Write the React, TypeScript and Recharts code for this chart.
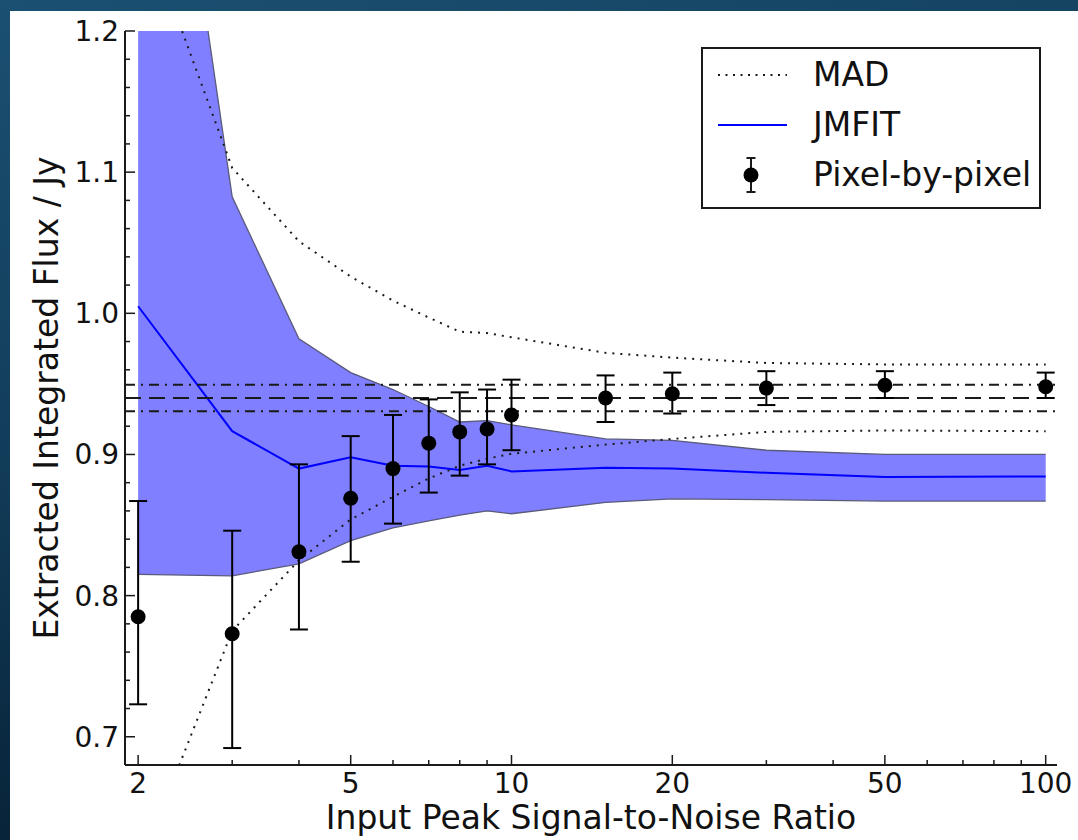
import React from "react";
import {
  ComposedChart,
  Area,
  Line,
  Scatter,
  XAxis,
  YAxis,
  ErrorBar,
  ReferenceLine,
  Legend,
  Label,
} from "recharts";

// input peak S/N values
const snr = [2, 3, 4, 5, 6, 7, 8, 9, 10, 15, 20, 30, 50, 100];

// JMFIT median and its spread
const jmfit = [1.005, 0.9165, 0.89, 0.898, 0.892, 0.8915, 0.889, 0.892, 0.888, 0.8906, 0.89, 0.887, 0.884, 0.8844];
const jmfitLow = [0.815, 0.814, 0.8225, 0.839, 0.848, 0.853, 0.857, 0.86, 0.858, 0.866, 0.8686, 0.868, 0.867, 0.867];
const jmfitHigh = [1.54, 1.0825, 0.982, 0.958, 0.946, 0.934, 0.923, 0.924, 0.921, 0.911, 0.91, 0.903, 0.9, 0.9];

// MAD envelope
const madHigh = [1.285, 1.103, 1.051, 1.026, 1.009, 0.997, 0.987, 0.986, 0.983, 0.972, 0.9686, 0.9648, 0.9638, 0.9638];
const madLow = [0.606, 0.775, 0.825, 0.854, 0.87, 0.883, 0.892, 0.897, 0.9005, 0.907, 0.911, 0.916, 0.917, 0.9165];

// pixel-by-pixel fluxes with asymmetric errors
const pixelFlux = [0.785, 0.773, 0.831, 0.869, 0.89, 0.908, 0.916, 0.918, 0.928, 0.94, 0.943, 0.947, 0.949, 0.948];
const pixelErrLow = [0.062, 0.081, 0.055, 0.045, 0.039, 0.035, 0.031, 0.025, 0.025, 0.017, 0.014, 0.012, 0.009, 0.008];
const pixelErrHigh = [0.082, 0.073, 0.062, 0.044, 0.038, 0.031, 0.028, 0.028, 0.025, 0.016, 0.015, 0.012, 0.01, 0.01];

const trueFlux = 0.94;
const trueFluxLimits = [0.9306, 0.9494];

const xTicks = [2, 3, 4, 5, 6, 7, 8, 9, 10, 20, 30, 40, 50, 60, 70, 80, 90, 100];
const xLabelled = [2, 5, 10, 20, 50, 100];
const yTicks = [0.68, 0.7, 0.72, 0.74, 0.76, 0.78, 0.8, 0.82, 0.84, 0.86, 0.88, 0.9, 0.92, 0.94, 0.96, 0.98, 1.0, 1.02, 1.04, 1.06, 1.08, 1.1, 1.12, 1.14, 1.16, 1.18, 1.2];
const yLabelled = [0.7, 0.8, 0.9, 1.0, 1.1, 1.2];

const legendNames = ["MAD", "JMFIT", "Pixel-by-pixel"];

const rows = snr.map((s, i) => ({
  snr: s,
  jmfit: jmfit[i],
  band: [jmfitLow[i], jmfitHigh[i]],
  madHigh: madHigh[i],
  madLow: madLow[i],
  flux: pixelFlux[i],
  err: [pixelErrLow[i], pixelErrHigh[i]],
}));

const FONT = "'DejaVu Sans', sans-serif";
const TS = 6;
const TM = 2;
const INK = "#1a1a1a";

const isLabelled = (list: number[], v: number) => list.some((t) => Math.abs(t - v) < 1e-6);

function BottomTick(props: any) {
  const { x, y, payload } = props;
  const v = payload.value;
  const ay = y - TS - TM;
  const major = isLabelled(xLabelled, v);
  return (
    <g>
      <line x1={x} x2={x} y1={ay} y2={ay - (major ? 10 : 5)} stroke={INK} strokeWidth={1.5} />
      {major && (
        <text x={x} y={ay + 28} textAnchor="middle" fontSize={28} fontFamily={FONT} fill="#111">
          {v}
        </text>
      )}
    </g>
  );
}

function TopTick(props: any) {
  const { x, y, payload } = props;
  const ay = y + TS + TM;
  const major = isLabelled(xLabelled, payload.value);
  return <line x1={x} x2={x} y1={ay} y2={ay + (major ? 10 : 5)} stroke={INK} strokeWidth={1.5} />;
}

function LeftTick(props: any) {
  const { x, y, payload } = props;
  const v = payload.value;
  const ax = x + TS + TM;
  const major = isLabelled(yLabelled, v);
  return (
    <g>
      <line x1={ax} x2={ax + (major ? 10 : 5)} y1={y} y2={y} stroke={INK} strokeWidth={1.5} />
      {major && (
        <text x={ax - 6} y={y + 10} textAnchor="end" fontSize={28} fontFamily={FONT} fill="#111">
          {v.toFixed(1)}
        </text>
      )}
    </g>
  );
}

function RightTick(props: any) {
  const { x, y, payload } = props;
  const ax = x - TS - TM;
  const major = isLabelled(yLabelled, payload.value);
  return <line x1={ax} x2={ax - (major ? 10 : 5)} y1={y} y2={y} stroke={INK} strokeWidth={1.5} />;
}

function LegendBox() {
  return (
    <svg width={342} height={164} style={{ display: "block" }}>
      <rect x={1} y={1} width={338} height={160} fill="#fff" stroke={INK} strokeWidth={2} />
      <line x1={17} x2={86} y1={28} y2={28} stroke={INK} strokeWidth={2} strokeDasharray="2 5.5" />
      <line x1={17} x2={86} y1={78} y2={78} stroke="#0000ff" strokeWidth={2} />
      <line x1={50} x2={50} y1={111} y2={145} stroke={INK} strokeWidth={2} />
      <line x1={45.5} x2={54.5} y1={111} y2={111} stroke={INK} strokeWidth={2} />
      <line x1={45.5} x2={54.5} y1={145} y2={145} stroke={INK} strokeWidth={2} />
      <circle cx={50} cy={128} r={7.5} fill="#000" />
      {legendNames.map((n, i) => (
        <text key={n} x={112} y={39 + i * 50} fontSize={33} fontFamily={FONT} fill="#111">
          {n}
        </text>
      ))}
    </svg>
  );
}

export default function App() {
  return (
    <div
      style={{
        position: "absolute",
        left: 0,
        top: 0,
        width: 1078,
        height: 840,
        overflow: "hidden",
        background: "linear-gradient(165deg, #1b5072 0%, #123d5a 40%, #082338 75%, #04172a 100%)",
      }}
    >
      <div style={{ position: "absolute", left: 10, top: 11, right: 0, bottom: 0, background: "#fff" }} />
      <div style={{ position: "absolute", left: 0, top: 0 }}>
        <ComposedChart
          width={1078}
          height={840}
          data={rows}
          margin={{ top: 31, right: 21, bottom: 0, left: 0 }}
        >
          <XAxis
            dataKey="snr"
            type="number"
            scale="log"
            domain={[1.89, 105]}
            allowDataOverflow
            ticks={xTicks}
            interval={0}
            height={75}
            tickSize={TS}
            tickMargin={TM}
            tickLine={false}
            tick={<BottomTick />}
            axisLine={{ stroke: INK, strokeWidth: 2 }}
          >
            <Label
              content={() => (
                <text x={591} y={829} textAnchor="middle" fontSize={33} fontFamily={FONT} fill="#111">
                  Input Peak Signal-to-Noise Ratio
                </text>
              )}
            />
          </XAxis>
          <XAxis
            xAxisId="top"
            orientation="top"
            dataKey="snr"
            type="number"
            scale="log"
            domain={[1.89, 105]}
            allowDataOverflow
            ticks={xTicks}
            interval={0}
            height={0}
            tickSize={TS}
            tickMargin={TM}
            tickLine={false}
            tick={<TopTick />}
            axisLine={{ stroke: INK, strokeWidth: 2 }}
          />
          <YAxis
            type="number"
            domain={[0.68, 1.2]}
            allowDataOverflow
            ticks={yTicks}
            interval={0}
            width={125}
            tickSize={TS}
            tickMargin={TM}
            tickLine={false}
            tick={<LeftTick />}
            axisLine={{ stroke: INK, strokeWidth: 2 }}
          >
            <Label
              content={(p: any) => {
                const vb = p.viewBox || { y: 31, height: 734 };
                const cy = vb.y + vb.height / 2;
                return (
                  <text
                    x={58}
                    y={cy}
                    transform={`rotate(-90 58 ${cy})`}
                    textAnchor="middle"
                    fontSize={33}
                    fontFamily={FONT}
                    fill="#111"
                  >
                    Extracted Integrated Flux / Jy
                  </text>
                );
              }}
            />
          </YAxis>
          <YAxis
            yAxisId="right"
            orientation="right"
            type="number"
            domain={[0.68, 1.2]}
            allowDataOverflow
            ticks={yTicks}
            interval={0}
            width={0}
            tickSize={TS}
            tickMargin={TM}
            tickLine={false}
            tick={<RightTick />}
            axisLine={{ stroke: INK, strokeWidth: 2 }}
          />
          <Legend
            layout="horizontal"
            verticalAlign="middle"
            align="center"
            content={<LegendBox />}
            wrapperStyle={{ position: "absolute", left: 701, top: 47, width: 342, height: 164 }}
          />
          <Area
            dataKey="band"
            type="linear"
            fill="#7f7fff"
            fillOpacity={1}
            stroke="#5a5a7a"
            strokeWidth={1.3}
            isAnimationActive={false}
            dot={false}
            activeDot={false}
          />
          <Line
            dataKey="madHigh"
            type="linear"
            stroke={INK}
            strokeWidth={2}
            strokeDasharray="2 6"
            dot={false}
            activeDot={false}
            isAnimationActive={false}
          />
          <Line
            dataKey="madLow"
            type="linear"
            stroke={INK}
            strokeWidth={2}
            strokeDasharray="2 6"
            dot={false}
            activeDot={false}
            isAnimationActive={false}
          />
          <Line
            dataKey="jmfit"
            type="linear"
            stroke="#0000ff"
            strokeWidth={2}
            dot={false}
            activeDot={false}
            isAnimationActive={false}
          />
          <ReferenceLine y={trueFlux} stroke={INK} strokeWidth={2} strokeDasharray="16 8" />
          {trueFluxLimits.map((v) => (
            <ReferenceLine key={v} y={v} stroke={INK} strokeWidth={2} strokeDasharray="10 6 2 6" />
          ))}
          <Scatter
            dataKey="flux"
            fill="#000"
            isAnimationActive={false}
            shape={(p: any) => <circle cx={p.cx} cy={p.cy} r={7.5} fill="#000" />}
          >
            <ErrorBar dataKey="err" direction="y" width={9} stroke="#000" strokeWidth={2} />
          </Scatter>
        </ComposedChart>
      </div>
    </div>
  );
}
